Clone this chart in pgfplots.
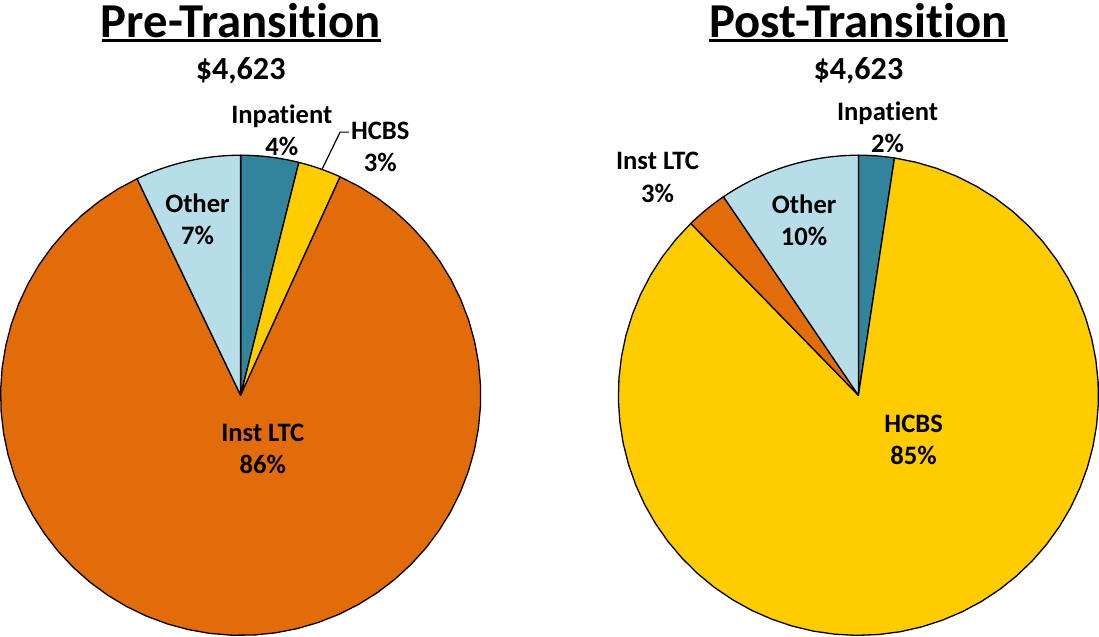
\documentclass[border=0pt]{standalone}
\usepackage{pgfplots}
\pgfplotsset{compat=1.18}
\usepackage{fontspec}
\setmainfont[Ligatures=NoCommon]{Carlito}
\definecolor{cteal}{HTML}{31849B}
\definecolor{cyel}{HTML}{FFCC00}
\definecolor{corg}{HTML}{E36C0A}
\definecolor{cblue}{HTML}{B7DDE8}
\tikzset{lbl/.style={font=\bfseries\fontsize{26.5}{32}\selectfont, align=center}}
% slice: cx, cy, r, start cumulative %, end cumulative %, colour
\newcommand\slice[6]{%
  \addplot[fill=#6, draw=black, line width=1.3pt, line join=round, domain={#4*3.6}:{#5*3.6}, samples=60, variable=\t]
    ({#1 + #3*sin(\t)}, {#2 - #3*cos(\t)}) -- (axis cs:#1,#2) -- cycle;}
\begin{document}
\begin{tikzpicture}
\begin{axis}[
  width=1099pt, height=639pt, scale only axis,
  xmin=0, xmax=1099, ymin=0, ymax=639, y dir=reverse,
  hide axis, clip=false,
]
% Pre-Transition: Inpatient 3.9, HCBS 2.9, Inst LTC 86.1, Other 7.1 (cumulative %)
\slice{242}{397}{239}{0}{3.9}{cteal}
\slice{242}{397}{239}{3.9}{6.8}{cyel}
\slice{242}{397}{239}{6.8}{92.9}{corg}
\slice{242}{397}{239}{92.9}{100}{cblue}
% Post-Transition: Inpatient 2.4, HCBS 85.3, Inst LTC 2.8, Other 9.5 (cumulative %)
\slice{857}{397}{239}{0}{2.4}{cteal}
\slice{857}{397}{239}{2.4}{87.7}{cyel}
\slice{857}{397}{239}{87.7}{90.5}{corg}
\slice{857}{397}{239}{90.5}{100}{cblue}

% titles
\node[font=\bfseries\fontsize{48.5}{52}\selectfont] at (axis cs:242,24) {Pre-Transition};
\draw[line width=3.2pt] (axis cs:104,43.5) -- (axis cs:382,43.5);
\node[font=\bfseries\fontsize{32}{36}\selectfont] at (axis cs:242,74) {\$4,623};
\node[font=\bfseries\fontsize{48.5}{52}\selectfont] at (axis cs:857,24) {Post-Transition};
\draw[line width=3.2pt] (axis cs:708,43.5) -- (axis cs:1006,43.5);
\node[font=\bfseries\fontsize{32}{36}\selectfont] at (axis cs:857,74) {\$4,623};

% labels pre
\node[lbl] at (axis cs:283,133) {Inpatient\\4\%};
\draw[line width=1.2pt] (axis cs:323,172) -- (axis cs:341,135) -- (axis cs:350,135);
\node[lbl] at (axis cs:381,150) {HCBS\\3\%};
\node[lbl] at (axis cs:199,222) {Other\\7\%};
\node[lbl] at (axis cs:264,450) {Inst LTC\\86\%};
% labels post
\node[lbl] at (axis cs:886,130) {Inpatient\\2\%};
\node[lbl] at (axis cs:657,180) {Inst LTC\\3\%};
\node[lbl] at (axis cs:803,223) {Other\\10\%};
\node[lbl] at (axis cs:912,441) {HCBS\\85\%};
\end{axis}
\end{tikzpicture}
\end{document}
